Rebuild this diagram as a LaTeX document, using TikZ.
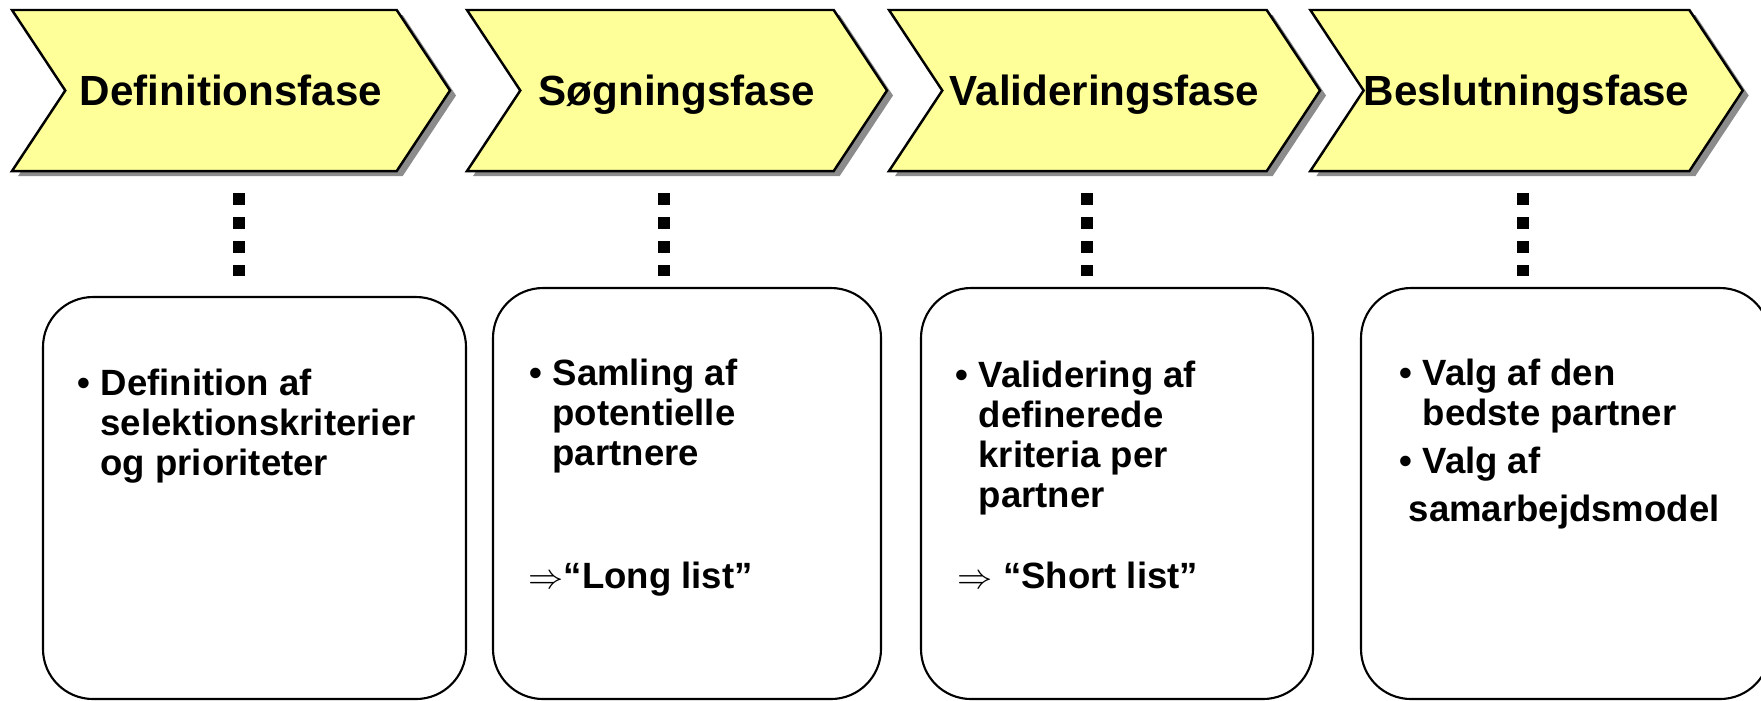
\documentclass[tikz,border=0pt]{standalone}
\usepackage{fontspec}
\setmainfont{Liberation Sans}
\usetikzlibrary{shapes.symbols,shadows}
\definecolor{phaseyellow}{HTML}{FFFF99}
\newcommand{\bulletgap}{\hphantom{\textbullet\ }}
\newcommand{\stack}[1]{\begin{tabular}[t]{@{}l@{}}#1\end{tabular}}

\begin{document}
\begin{tikzpicture}[x=1cm,y=-1cm,
  phase/.style={shape=signal, signal from=west, signal to=east, signal pointer angle=113, draw=black, line width=0.7pt, fill=phaseyellow, minimum height=1.61cm, inner sep=0pt, font=\fontsize{12}{14}\selectfont\bfseries, text height=0.83em, text depth=0pt, drop shadow={shadow xshift=0.06cm, shadow yshift=-0.05cm, opacity=1, fill=black!45}},
  card/.style={shape=rectangle, rounded corners=0.5cm, draw, line width=0.6pt},
  item/.style={anchor=base west, inner sep=0pt, font=\fontsize{10.4}{11.4}\selectfont\bfseries},
  dots/.style={line width=0.12cm, dash pattern=on 0.12cm off 0.12cm}]

\useasboundingbox (0,0) rectangle (17.61,7.00);

\node[phase, minimum width=4.38cm] (f1) at (2.31,0.905) {Definitionsfase};
\node[phase, minimum width=4.20cm] (f2) at (6.77,0.905) {Søgningsfase};
\node[phase, minimum width=4.31cm] (f3) at (11.045,0.905) {Valideringsfase};
\node[phase, minimum width=4.27cm] (f4) at (15.265,0.905) {Beslutningsfase};

\node[card, minimum width=4.23cm, minimum height=4.02cm] (c1) at (2.545,4.98) {};
\node[card, minimum width=3.88cm, minimum height=4.11cm] (c2) at (6.87,4.935) {};
\node[card, minimum width=3.92cm, minimum height=4.11cm] (c3) at (11.17,4.935) {};
\node[card, minimum width=4.09cm, minimum height=4.11cm] (c4) at (15.655,4.935) {};

\coordinate (x1) at (2.39,0);
\coordinate (x2) at (6.635,0);
\coordinate (x3) at (10.87,0);
\coordinate (x4) at (15.23,0);
\draw[dots, shorten <=0.21cm, shorten >=0.20cm] (f1.south -| x1) -- (c1.north -| x1);
\draw[dots, shorten <=0.21cm, shorten >=0.11cm] (f2.south -| x2) -- (c2.north -| x2);
\draw[dots, shorten <=0.21cm, shorten >=0.11cm] (f3.south -| x3) -- (c3.north -| x3);
\draw[dots, shorten <=0.21cm, shorten >=0.11cm] (f4.south -| x4) -- (c4.north -| x4);

\node[item] (t1) at (0.77,3.95) {\stack{\textbullet\ Definition af\\\bulletgap selektionskriterier\\\bulletgap og prioriteter}};
\node[item] (t2) at (5.29,3.85) {\stack{\textbullet\ Samling af\\\bulletgap potentielle\\\bulletgap partnere}};
\node[item] (l2) at (5.28,5.88) {$\Rightarrow$“Long list”};
\node[item] (t3) at (9.55,3.87) {\stack{\textbullet\ Validering af\\\bulletgap definerede\\\bulletgap kriteria per\\\bulletgap partner}};
\node[item] (l3) at (9.57,5.88) {$\Rightarrow$ “Short list”};
\node[item] (t4) at (13.99,3.85) {\stack{\textbullet\ Valg af den\\\bulletgap bedste partner\\[0.08cm]\textbullet\ Valg af\\[0.08cm]\hspace{0.09cm}samarbejdsmodel}};
\end{tikzpicture}
\end{document}
